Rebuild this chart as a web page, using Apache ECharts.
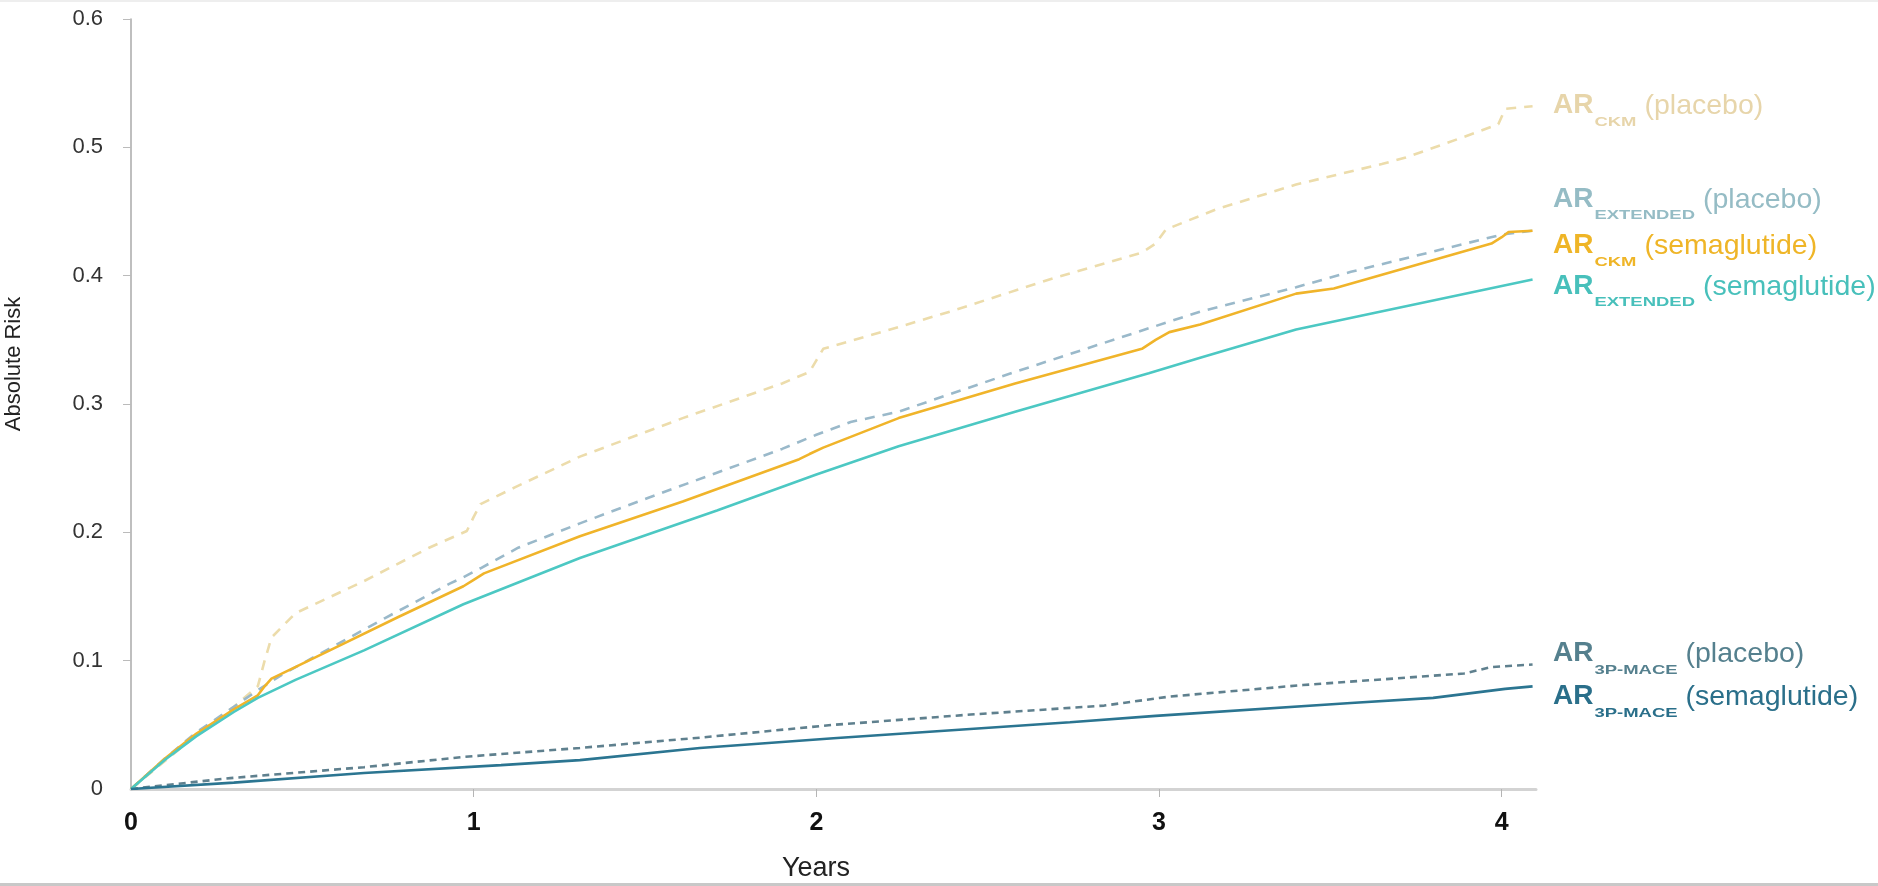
<!DOCTYPE html>
<html>
<head>
<meta charset="utf-8">
<script src="https://cdn.jsdelivr.net/npm/echarts@6/dist/echarts.min.js"></script>
<style>
html,body{margin:0;padding:0;background:#fff;}
#chart{width:1878px;height:886px;}
</style>
</head>
<body>
<div id="chart"></div>
<script>
// ---- Data (years, absolute risk) ----
const ckmPlaceboT = [0, 0.1, 0.2, 0.3, 0.37, 0.39, 0.41, 0.48, 0.68, 0.87, 0.98, 1.0, 1.02, 1.12, 1.31, 1.61, 1.90, 1.98, 2.0, 2.02, 2.24, 2.39, 2.68, 2.95, 2.99, 3.02, 3.17, 3.40, 3.65, 3.72, 3.93, 3.99, 4.01, 4.09];
const ckmPlaceboV = [0, 0.022, 0.044, 0.064, 0.080, 0.100, 0.118, 0.137, 0.162, 0.188, 0.201, 0.212, 0.222, 0.235, 0.259, 0.289, 0.316, 0.325, 0.334, 0.343, 0.360, 0.372, 0.397, 0.418, 0.425, 0.436, 0.452, 0.471, 0.487, 0.492, 0.512, 0.518, 0.530, 0.532];

const extPlaceboT = [0, 0.1, 0.19, 0.3, 0.37, 0.44, 0.74, 0.93, 0.97, 1.02, 1.13, 1.31, 1.51, 1.90, 2.0, 2.10, 2.24, 2.58, 2.97, 3.12, 3.40, 3.56, 4.0, 4.09];
const extPlaceboV = [0, 0.024, 0.044, 0.064, 0.077, 0.089, 0.133, 0.160, 0.165, 0.172, 0.188, 0.207, 0.227, 0.265, 0.276, 0.286, 0.294, 0.325, 0.359, 0.372, 0.391, 0.403, 0.432, 0.435];

const ckmSemaT = [0, 0.1, 0.19, 0.3, 0.37, 0.39, 0.41, 0.58, 0.78, 0.97, 1.0, 1.03, 1.31, 1.61, 1.95, 1.98, 2.02, 2.24, 2.58, 2.95, 2.99, 3.03, 3.12, 3.40, 3.51, 3.97, 4.0, 4.02, 4.09];
const ckmSemaV = [0, 0.024, 0.043, 0.062, 0.073, 0.080, 0.086, 0.108, 0.134, 0.158, 0.163, 0.168, 0.197, 0.224, 0.257, 0.261, 0.266, 0.289, 0.316, 0.343, 0.350, 0.356, 0.362, 0.386, 0.390, 0.425, 0.430, 0.434, 0.435];

const extSemaT = [0, 0.1, 0.19, 0.3, 0.37, 0.48, 0.68, 0.97, 1.31, 1.71, 2.0, 2.24, 2.58, 2.97, 3.12, 3.40, 3.61, 4.09];
const extSemaV = [0, 0.023, 0.041, 0.060, 0.071, 0.085, 0.108, 0.144, 0.180, 0.217, 0.245, 0.267, 0.294, 0.324, 0.336, 0.358, 0.370, 0.397];

const macePlaceboT = [0, 0.1, 0.29, 0.68, 0.97, 1.31, 1.66, 2.05, 2.45, 2.84, 3.03, 3.42, 3.89, 3.97, 4.09];
const macePlaceboV = [0, 0.003, 0.0085, 0.017, 0.025, 0.032, 0.040, 0.050, 0.058, 0.065, 0.072, 0.081, 0.090, 0.095, 0.097];

const maceSemaT = [0, 0.3, 0.68, 1.08, 1.31, 1.66, 2.05, 2.74, 2.99, 3.56, 3.8, 4.01, 4.09];
const maceSemaV = [0, 0.005, 0.0125, 0.0186, 0.0225, 0.032, 0.0396, 0.052, 0.057, 0.067, 0.071, 0.078, 0.080];

const xTickValues = [0, 1, 2, 3, 4];
const yTickValues = [0, 0.1, 0.2, 0.3, 0.4, 0.5, 0.6];

// labels: [main, subscript, arm]
const labelTexts = [
  ['AR', 'CKM', '(placebo)'],
  ['AR', 'EXTENDED', '(placebo)'],
  ['AR', 'CKM', '(semaglutide)'],
  ['AR', 'EXTENDED', '(semaglutide)'],
  ['AR', '3P-MACE', '(placebo)'],
  ['AR', '3P-MACE', '(semaglutide)']
];

// ---- styling ----
const colors = {
  ckmP: '#ecdcab', extP: '#9ab9ca', ckmS: '#f0b42a', extS: '#4cc8c3', maceP: '#5f808e', maceS: '#2b7591'
};
const labelColors = ['#e7d5aa', '#95bcc5', '#efb527', '#48c0bb', '#55808e', '#2a6f8a'];
const labelCenters = [105, 199, 245, 286, 653, 696];
const subDrop = [17, 16, 17, 16, 17, 17];

function zip(t, v) { return t.map((x, i) => [x, v[i]]); }

const FONT = '"Liberation Sans", Arial, Helvetica, sans-serif';
const mctx = document.createElement('canvas').getContext('2d');
function measure(text, font) { mctx.font = font; return mctx.measureText(text).width; }

function lineSeries(name, t, v, color, dashed, dash) {
  return {
    name: name, type: 'line', data: zip(t, v), showSymbol: false, symbol: 'none',
    smooth: false, animation: false, z: dashed ? 3 : 4,
    lineStyle: { color: color, width: 2.6, type: dashed ? dash : 'solid', cap: 'butt' }
  };
}

const AR_FONT = 'bold 28px ' + FONT;
const SUB_FONT = 'bold 13px ' + FONT;
const ARM_FONT = '28.5px ' + FONT;
const SUB_SCALE = 1.42;

const labelGraphics = labelTexts.map((lt, i) => {
  const wA = measure(lt[0], AR_FONT);
  const wS = measure(lt[1], SUB_FONT) * SUB_SCALE;
  const c = labelCenters[i];
  const col = labelColors[i];
  return {
    type: 'group', x: 1553, y: c, z: 10,
    children: [
      { type: 'text', x: 0, y: 0, style: { text: lt[0], font: AR_FONT, fill: col, align: 'left', verticalAlign: 'middle' } },
      { type: 'text', x: wA + 1, y: subDrop[i], scaleX: SUB_SCALE, style: { text: lt[1], font: SUB_FONT, fill: col, align: 'left', verticalAlign: 'middle' } },
      { type: 'text', x: wA + 1 + wS + 8, y: 1, style: { text: lt[2], font: ARM_FONT, fill: col, align: 'left', verticalAlign: 'middle' } }
    ]
  };
});

const chart = echarts.init(document.getElementById('chart'), null, { renderer: 'canvas' });

chart.setOption({
  backgroundColor: '#ffffff',
  animation: false,
  grid: { left: 131, right: 342, top: 19, bottom: 97, containLabel: false },
  xAxis: {
    type: 'value', min: 0, max: 4.1, interval: 1,
    axisLine: { show: true, lineStyle: { color: '#d3d3d3', width: 3 } },
    axisTick: { show: true, length: 8, lineStyle: { color: '#b5b5b5', width: 1 }, customValues: [1, 2, 3, 4] },
    axisLabel: {
      customValues: xTickValues, margin: 22,
      fontFamily: FONT, fontSize: 25, fontWeight: 'bold', color: '#111'
    },
    splitLine: { show: false }
  },
  yAxis: {
    type: 'value', min: 0, max: 0.6, interval: 0.1,
    axisLine: { show: true, lineStyle: { color: '#aaaaaa', width: 1.5 } },
    axisTick: { show: true, length: 8, lineStyle: { color: '#bbbbbb', width: 1 }, customValues: [0.1, 0.2, 0.3, 0.4, 0.5, 0.6] },
    axisLabel: {
      customValues: yTickValues, margin: 28,
      fontFamily: FONT, fontSize: 22, color: '#333',
      formatter: function (v) { return String(+v.toFixed(1)); }
    },
    splitLine: { show: false }
  },
  series: [
    lineSeries('AR CKM (placebo)', ckmPlaceboT, ckmPlaceboV, colors.ckmP, true, [10, 8]),
    lineSeries('AR EXTENDED (placebo)', extPlaceboT, extPlaceboV, colors.extP, true, [10, 8]),
    lineSeries('AR CKM (semaglutide)', ckmSemaT, ckmSemaV, colors.ckmS, false),
    lineSeries('AR EXTENDED (semaglutide)', extSemaT, extSemaV, colors.extS, false),
    lineSeries('AR 3P-MACE (placebo)', macePlaceboT, macePlaceboV, colors.maceP, true, [7, 5]),
    lineSeries('AR 3P-MACE (semaglutide)', maceSemaT, maceSemaV, colors.maceS, false)
  ],
  graphic: [
    {
      type: 'text', x: 14, y: 364, rotation: Math.PI / 2, z: 10,
      style: { text: 'Absolute Risk', fontFamily: FONT, fontSize: 22, fill: '#222', align: 'center', verticalAlign: 'middle' }
    },
    {
      type: 'text', x: 816, y: 869, z: 10,
      style: { text: 'Years', fontFamily: FONT, fontSize: 27, fill: '#222', align: 'center', verticalAlign: 'middle' }
    },
    { type: 'rect', shape: { x: 0, y: 883, width: 1878, height: 3 }, style: { fill: '#c8c8c8' }, z: 10 },
    { type: 'rect', shape: { x: 0, y: 0, width: 1878, height: 2 }, style: { fill: '#eeeeee' }, z: 10 }
  ].concat(labelGraphics)
});
</script>
</body>
</html>
